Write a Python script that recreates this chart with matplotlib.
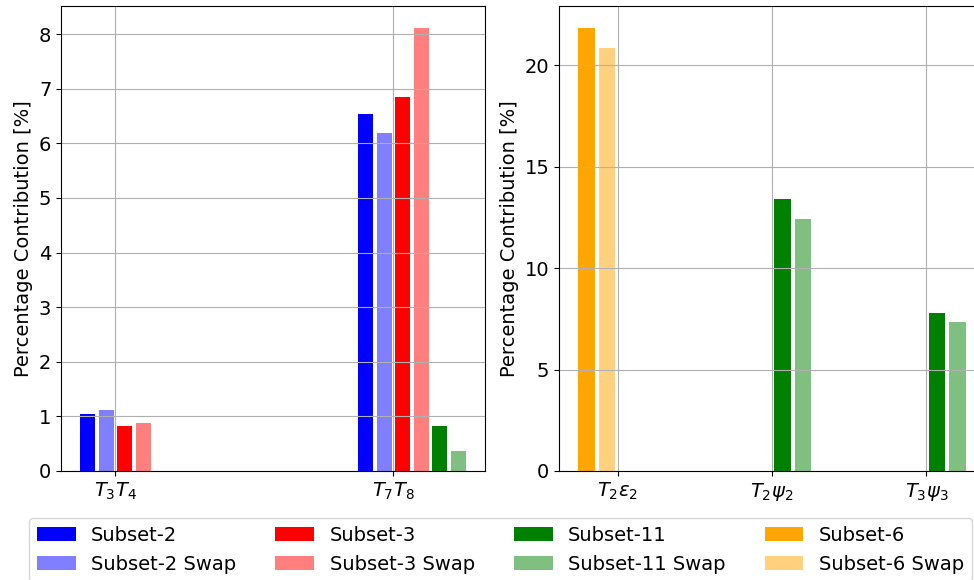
import numpy as np
import matplotlib.pyplot as plt
from matplotlib.patches import Patch

# left panel
left_cats = [r"$T_3T_4$", r"$T_7T_8$"]
left_labels = ["Subset-2", "Subset-2 Swap", "Subset-3", "Subset-3 Swap",
               "Subset-11", "Subset-11 Swap"]
left_vals = [
    [1.05, 6.54],
    [1.11, 6.19],
    [0.83, 6.85],
    [0.87, 8.11],
    [np.nan, 0.815],
    [np.nan, 0.36],
]

# right panel
right_cats = [r"$T_2\varepsilon_2$", r"$T_2\psi_2$", r"$T_3\psi_3$"]
right_labels = ["Subset-6", "Subset-6 Swap", "Subset-11", "Subset-11 Swap"]
right_vals = [
    [21.82, np.nan, np.nan],
    [20.84, np.nan, np.nan],
    [np.nan, 13.40, 7.78],
    [np.nan, 12.41, 7.34],
]

COLORS = {
    "Subset-2": ("blue", 1.0),
    "Subset-2 Swap": ("blue", 0.5),
    "Subset-3": ("red", 1.0),
    "Subset-3 Swap": ("red", 0.5),
    "Subset-11": ("green", 1.0),
    "Subset-11 Swap": ("green", 0.5),
    "Subset-6": ("orange", 1.0),
    "Subset-6 Swap": ("orange", 0.5),
}
LEGEND_ORDER = ["Subset-2", "Subset-2 Swap", "Subset-3", "Subset-3 Swap",
                "Subset-11", "Subset-11 Swap", "Subset-6", "Subset-6 Swap"]

plt.rcParams["font.size"] = 14

W, H = 974, 580
fig = plt.figure(figsize=(W / 100, H / 100), dpi=100)
ax1 = fig.add_axes([61 / W, 1 - 471 / H, 424 / W, 465 / H])
ax2 = fig.add_axes([559 / W, 1 - 471 / H, 426 / W, 465 / H])


def draw(ax, cats, labels, vals, offsets, step):
    x = np.arange(len(cats))
    for lab, v, off in zip(labels, vals, offsets):
        color, alpha = COLORS[lab]
        ax.bar(x + off * step, v, width=0.8 * step, color=color, alpha=alpha)
    ax.set_xticks(x)
    ax.set_xticklabels(cats)
    ax.grid(True)
    ax.set_ylabel("Percentage Contribution [%]")


draw(ax1, left_cats, left_labels, left_vals, [-1.5, -0.5, 0.5, 1.5, 2.5, 3.5], 1 / 15)
draw(ax2, right_cats, right_labels, right_vals, [-1.5, -0.5, 0.5, 1.5], 2 / 15)

handles = [Patch(facecolor=COLORS[k][0], alpha=COLORS[k][1], linewidth=0, label=k)
           for k in LEGEND_ORDER]
fig.legend(handles=handles, ncol=4, loc="upper left",
           bbox_to_anchor=(29 / W, 1 - 518 / H), borderaxespad=0)

fig.savefig("out.png", dpi=100)
